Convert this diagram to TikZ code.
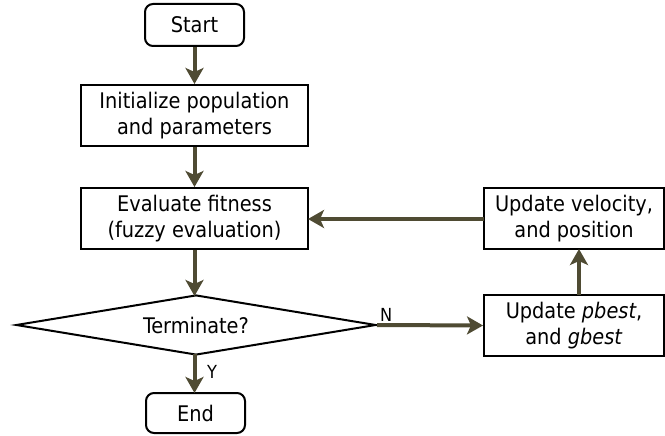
\documentclass[tikz,border=0pt]{standalone}
\usepackage{fontspec}
\setmainfont{DejaVu Sans Condensed}
\usetikzlibrary{shapes.geometric,arrows.meta}
\definecolor{arr}{HTML}{4F4B33}
\tikzset{
  box/.style={draw=black, line width=2pt, fill=white, minimum width=227pt, minimum height=61pt, align=center, inner sep=0pt, font=\fontsize{21.5}{26}\selectfont},
  term/.style={box, rounded corners=8pt, minimum width=99pt, minimum height=42pt},
  dec/.style={draw=black, line width=2pt, diamond, aspect=6, minimum width=360pt, minimum height=60pt, inner sep=0pt},
  flow/.style={draw=arr, line width=4pt, -{Stealth[length=16pt,width=18pt,inset=4pt]}},
  lbl/.style={inner sep=0pt, font=\fontsize{18}{18}\selectfont}
}
\begin{document}
\begin{tikzpicture}[x=1pt,y=-1pt]
\useasboundingbox (0,0) rectangle (665,436);
\node[term] (start) at (194.5,25) {Start};
\node[box] (init) at (194.5,115.5) {Initialize population\\and parameters};
\node[box] (eval) at (194.5,218.5) {Evaluate fitness\\(fuzzy evaluation)};
\node[dec] (dec) at (196,325) {};
\node[font=\fontsize{21.5}{26}\selectfont] (dect) at (196,325) {Terminate?};
\node[term, minimum height=40pt] (end) at (195.5,413) {End};
\node[box, minimum width=180pt] (pb) at (574,325.5) {Update \textit{pbest},\\and \textit{gbest}};
\node[box, minimum width=180pt] (vel) at (574,218.5) {Update velocity,\\and position};
\coordinate (decN) at (194.5,296);
\coordinate (decS) at (194.5,354);
\coordinate (endN) at (194.5,393);
\coordinate (pbn) at (579,295);
\coordinate (velS) at (579,249);
\coordinate (velW) at (484,219);
\coordinate (evE) at (308,219);
\draw[flow] (start.south) -- (init.north);
\draw[flow] (init.south) -- (eval.north);
\draw[flow] (eval.south) -- (decN);
\draw[flow] (decS) -- (endN);
\draw[flow] (dec.east) -- (pb.west);
\draw[flow] (pbn) -- (velS);
\draw[flow] (velW) -- (evE);
\node[lbl, anchor=base west] (nl) at (380,321) {N};
\node[lbl, anchor=base west] (yl) at (207,378) {Y};
\end{tikzpicture}
\end{document}
